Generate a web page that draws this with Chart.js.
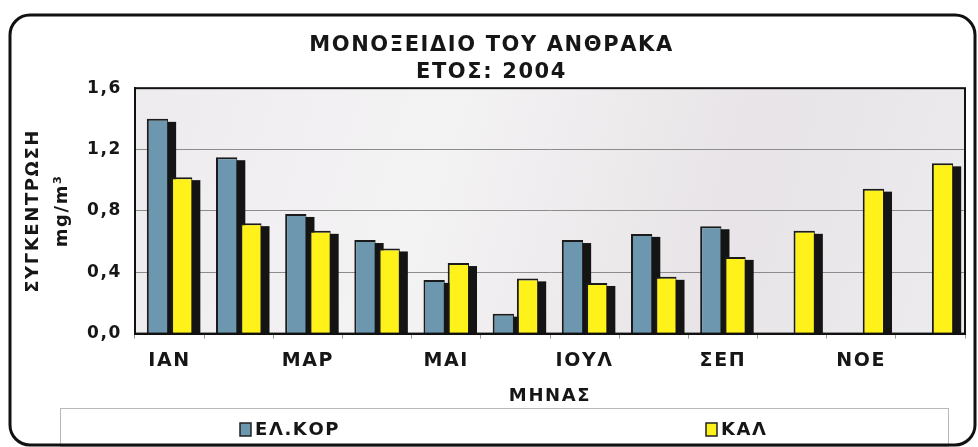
<!DOCTYPE html>
<html>
<head>
<meta charset="utf-8">
<script src="https://cdn.jsdelivr.net/npm/chart.js@4.4.0/dist/chart.umd.min.js"></script>
<style>
  html, body { margin: 0; padding: 0; background: #fff; }
</style>
</head>
<body>
<canvas id="coChart" width="978" height="447"></canvas>
<script>
// data
const months = ['ΙΑΝ', 'ΦΕΒ', 'ΜΑΡ', 'ΑΠΡ', 'ΜΑΙ', 'ΙΟΥΝ', 'ΙΟΥΛ', 'ΑΥΓ', 'ΣΕΠ', 'ΟΚΤ', 'ΝΟΕ', 'ΔΕΚ'];
const elKor = [1.40, 1.15, 0.78, 0.61, 0.35, 0.13, 0.61, 0.65, 0.70, null, null, null];
const kal = [1.02, 0.72, 0.67, 0.555, 0.46, 0.36, 0.33, 0.37, 0.50, 0.67, 0.945, 1.11];
const seriesNames = ['ΕΛ.ΚΟΡ', 'ΚΑΛ'];
const yMin = 0, yMax = 1.6, yStep = 0.4;

const FONT = "'DejaVu Sans', Verdana, sans-serif";
const INK = '#161616';
const SPACING = '1.6px'; // the original lettering is wide

// outer rounded frame, plot background, bar shadows, legend
const framePlugin = {
  id: 'framePlugin',
  beforeLayout(chart) {
    chart.ctx.letterSpacing = SPACING;
  },
  beforeDraw(chart) {
    const { ctx, chartArea: a } = chart;
    ctx.save();
    ctx.fillStyle = '#fff';
    ctx.fillRect(0, 0, chart.width, chart.height);

    const g = ctx.createLinearGradient(a.left, a.top, a.right, a.bottom);
    g.addColorStop(0, '#eeebee');
    g.addColorStop(0.35, '#f4f3f4');
    g.addColorStop(0.7, '#e8e4e7');
    g.addColorStop(1, '#ecebed');
    ctx.fillStyle = g;
    ctx.fillRect(a.left, a.top, a.right - a.left, a.bottom - a.top);

    // legend frame
    ctx.fillStyle = '#fff';
    ctx.strokeStyle = '#b8b8b8';
    ctx.lineWidth = 1;
    ctx.fillRect(60, 408, 888, 38);
    ctx.strokeRect(60.5, 408.5, 888, 38);

    // outer frame
    ctx.strokeStyle = '#111';
    ctx.lineWidth = 3;
    ctx.beginPath();
    ctx.roundRect(10, 15, 965, 430, 20);
    ctx.stroke();
    ctx.restore();
    ctx.letterSpacing = SPACING;
  },
  beforeDatasetsDraw(chart) {
    // dark block shadow behind every bar, all drawn before the bars
    const { ctx, chartArea: a } = chart;
    ctx.save();
    ctx.beginPath();
    ctx.rect(a.left, a.top, a.right - a.left, a.bottom - a.top);
    ctx.clip();
    ctx.fillStyle = '#141414';
    chart.data.datasets.forEach((ds, i) => {
      chart.getDatasetMeta(i).data.forEach(bar => {
        const { x, y, base, width } = bar.getProps(['x', 'y', 'base', 'width'], true);
        if (!isFinite(y) || !isFinite(x)) return;
        ctx.fillRect(x - width / 2 + 8, y + 3, width, base - y);
      });
    });
    ctx.restore();
  },
  afterDatasetsDraw(chart) {
    const { ctx, chartArea: a } = chart;
    ctx.save();
    ctx.strokeStyle = '#111';
    ctx.lineWidth = 2;
    ctx.strokeRect(a.left, a.top, a.right - a.left, a.bottom - a.top);
    ctx.restore();
  },
  afterDraw(chart) {
    // legend items, spread out like the original
    const { ctx } = chart;
    const xs = [240, 706];
    const y = 429;
    ctx.save();
    ctx.font = 'bold 18px ' + FONT;
    ctx.textBaseline = 'middle';
    ctx.textAlign = 'left';
    chart.data.datasets.forEach((ds, i) => {
      ctx.fillStyle = ds.backgroundColor;
      ctx.strokeStyle = '#222';
      ctx.lineWidth = 1.5;
      ctx.fillRect(xs[i], y - 6, 11, 13);
      ctx.strokeRect(xs[i], y - 6, 11, 13);
      ctx.fillStyle = INK;
      ctx.fillText(ds.label, xs[i] + 15, y + 1);
    });
    ctx.restore();
  }
};

const ctx = document.getElementById('coChart').getContext('2d');
new Chart(ctx, {
  type: 'bar',
  data: {
    labels: months,
    datasets: [
      {
        label: seriesNames[0],
        data: elKor,
        backgroundColor: '#6c97ae',
        borderColor: '#1b1b1b',
        borderWidth: { top: 2, left: 2, right: 1, bottom: 0 }
      },
      {
        label: seriesNames[1],
        data: kal,
        backgroundColor: '#fff21a',
        borderColor: '#1b1b1b',
        borderWidth: { top: 2, left: 2, right: 1, bottom: 0 }
      }
    ]
  },
  options: {
    responsive: false,
    animation: false,
    devicePixelRatio: 1,
    layout: { padding: { left: 18, right: 13, top: 0, bottom: 38 } },
    datasets: {
      bar: { categoryPercentage: 0.7, barPercentage: 0.88 }
    },
    plugins: {
      legend: { display: false },
      tooltip: { enabled: false },
      title: {
        display: true,
        text: ['ΜΟΝΟΞΕΙΔΙΟ ΤΟΥ ΑΝΘΡΑΚΑ', 'ΕΤΟΣ: 2004'],
        color: INK,
        font: { family: FONT, size: 21, weight: 'bold', lineHeight: 1.29 },
        padding: { top: 32, bottom: 2 }
      }
    },
    scales: {
      x: {
        grid: { display: true, drawOnChartArea: false, drawTicks: true, tickLength: 5, color: '#9a9a9a' },
        border: { display: true, color: '#111', width: 2 },
        ticks: {
          autoSkip: false,
          maxRotation: 0,
          padding: 11,
          color: INK,
          font: { family: FONT, size: 19, weight: 'bold' },
          callback: function (value, index) {
            return index % 2 === 0 ? this.getLabelForValue(value) : '';
          }
        },
        title: {
          display: true,
          text: 'ΜΗΝΑΣ',
          color: INK,
          font: { family: FONT, size: 18, weight: 'bold' },
          padding: { top: 2, bottom: 2 }
        }
      },
      y: {
        min: yMin,
        max: yMax,
        afterFit(scale) { scale.width = 117; },
        grid: { color: '#8c8c8c', lineWidth: 1, drawTicks: false },
        border: { display: true, color: '#111', width: 2 },
        ticks: {
          stepSize: yStep,
          padding: 13,
          color: INK,
          font: { family: FONT, size: 17, weight: 'bold' },
          callback: v => v.toFixed(1).replace('.', ',')
        },
        title: {
          display: true,
          text: ['ΣΥΓΚΕΝΤΡΩΣΗ', 'mg/m³'],
          color: INK,
          font: { family: FONT, size: 18, weight: 'bold', lineHeight: 1.66 },
          padding: { top: 0, bottom: 0 }
        }
      }
    }
  },
  plugins: [framePlugin]
});
</script>
</body>
</html>
